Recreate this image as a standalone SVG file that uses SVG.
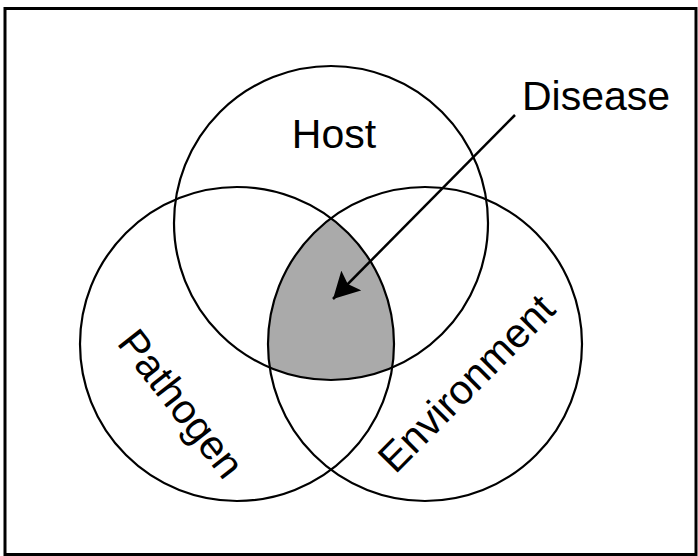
<svg xmlns="http://www.w3.org/2000/svg" width="698" height="556" viewBox="0 0 698 556">
<style>
.c{fill:none;stroke:#000;stroke-width:2.2}
.t{font-family:"Liberation Sans",Arial,sans-serif;font-size:41px;fill:#000}
</style>
<defs>
<marker id="ah" markerWidth="26" markerHeight="28" refX="26" refY="14" orient="auto" markerUnits="userSpaceOnUse" viewBox="0 0 26 28">
<path d="M0 0 L26 14 L0 28 L5 14 Z" fill="#000"/>
</marker>
</defs>
<rect x="0" y="0" width="698" height="556" fill="#fff"/>
<rect x="5" y="8.5" width="691" height="546" fill="none" stroke="#000" stroke-width="3"/>
<g id="disease-region">
<path d="M331 218.3 A157 157 0 0 1 392.2 367.6 A157 157 0 0 1 269.8 367.6 A157 157 0 0 1 331 218.3 Z" fill="#aaaaaa" stroke="none"/>
</g>
<g id="host">
<circle class="c" cx="331" cy="223" r="157"/>
<text class="t" x="334" y="148" text-anchor="middle">Host</text>
</g>
<g id="pathogen">
<circle class="c" cx="237" cy="344" r="157"/>
<text class="t" text-anchor="middle" transform="translate(181.5 403.5) rotate(52)" y="14.5">Pathogen</text>
</g>
<g id="environment">
<circle class="c" cx="425" cy="344" r="157"/>
<text class="t" text-anchor="middle" transform="translate(466 383) rotate(-45.3)" y="14.5">Environment</text>
</g>
<g id="disease">
<text class="t" x="522" y="110">Disease</text>
</g>
<g id="connectors">
<line x1="515" y1="115" x2="333" y2="299" stroke="#000" stroke-width="2.5" marker-end="url(#ah)"/>
</g>
</svg>
